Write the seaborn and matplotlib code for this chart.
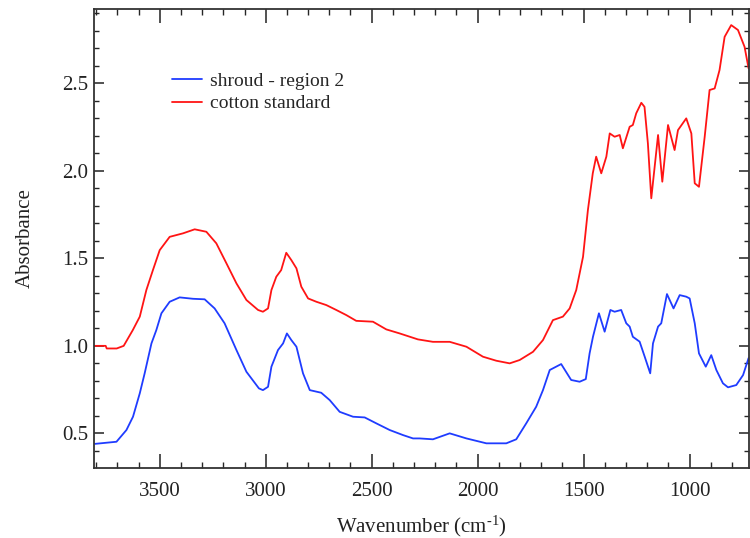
import numpy as np
import pandas as pd
import matplotlib
matplotlib.use("Agg")
import matplotlib.pyplot as plt
from matplotlib.ticker import MultipleLocator
import seaborn as sns

# FTIR absorbance spectra (wavenumber in cm^-1)
cotton_wn = [3805, 3755, 3750, 3703, 3670, 3627, 3594, 3563, 3532, 3500, 3453, 3390,
             3335, 3280, 3233, 3185, 3138, 3091, 3036, 3013, 2989, 2973, 2950, 2927,
             2903, 2879, 2855, 2832, 2800, 2761, 2714, 2667, 2620, 2573, 2494, 2431,
             2368, 2282, 2211, 2132, 2053, 1975, 1912, 1849, 1802, 1739, 1692, 1645,
             1598, 1566, 1535, 1503, 1480, 1457, 1441, 1417, 1393, 1377, 1354, 1330,
             1315, 1283, 1268, 1252, 1228, 1213, 1197, 1181, 1165, 1149, 1129, 1102,
             1071, 1055, 1016, 992, 976, 956, 929, 906, 882, 859, 835, 804, 772, 741, 722]
cotton_abs = [1.00, 1.00, 0.985, 0.985, 1.00, 1.09, 1.167, 1.319, 1.433, 1.547, 1.623, 1.643,
              1.666, 1.652, 1.586, 1.471, 1.357, 1.262, 1.205, 1.195, 1.214, 1.319, 1.395, 1.433,
              1.532, 1.49, 1.443, 1.338, 1.271, 1.252, 1.233, 1.205, 1.176, 1.143, 1.138, 1.094,
              1.071, 1.037, 1.023, 1.023, 0.995, 0.938, 0.915, 0.90, 0.919, 0.966, 1.033, 1.147,
              1.167, 1.214, 1.319, 1.509, 1.776, 1.986, 2.081, 1.986, 2.081, 2.214, 2.195, 2.205,
              2.129, 2.252, 2.262, 2.329, 2.389, 2.366, 2.157, 1.843, 2.024, 2.205, 1.938, 2.262,
              2.119, 2.233, 2.30, 2.214, 1.929, 1.909, 2.195, 2.462, 2.471, 2.576, 2.766, 2.833,
              2.805, 2.709, 2.586]

shroud_wn = [3805, 3704, 3657, 3626, 3594, 3571, 3539, 3516, 3492, 3453, 3406, 3343,
             3288, 3241, 3194, 3138, 3091, 3032, 3013, 2989, 2973, 2942, 2918, 2900,
             2879, 2855, 2824, 2792, 2738, 2698, 2651, 2588, 2533, 2478, 2415, 2352,
             2305, 2274, 2211, 2132, 2053, 1959, 1865, 1818, 1771, 1724, 1692, 1660,
             1606, 1559, 1519, 1490, 1472, 1456, 1428, 1401, 1374, 1354, 1323, 1299,
             1283, 1268, 1236, 1212, 1186, 1173, 1149, 1134, 1107, 1076, 1047, 1016,
             1000, 976, 956, 924, 898, 874, 843, 819, 780, 748, 722]
shroud_abs = [0.44, 0.452, 0.519, 0.595, 0.729, 0.843, 1.014, 1.09, 1.186, 1.252, 1.277, 1.269,
              1.266, 1.214, 1.129, 0.976, 0.852, 0.757, 0.747, 0.766, 0.881, 0.976, 1.014, 1.071,
              1.033, 0.995, 0.843, 0.747, 0.732, 0.690, 0.623, 0.595, 0.591, 0.557, 0.519, 0.490,
              0.471, 0.471, 0.466, 0.50, 0.471, 0.443, 0.443, 0.466, 0.557, 0.652, 0.747, 0.862,
              0.896, 0.805, 0.795, 0.81, 0.957, 1.052, 1.186, 1.081, 1.205, 1.195, 1.205, 1.129,
              1.110, 1.052, 1.024, 0.938, 0.843, 1.014, 1.11, 1.129, 1.296, 1.214, 1.290, 1.281,
              1.271, 1.129, 0.957, 0.881, 0.947, 0.862, 0.786, 0.763, 0.776, 0.833, 0.93]

series_names = ["shroud - region 2", "cotton standard"]
series_colors = ["#1f3cff", "#ff1414"]

df = pd.concat([
    pd.DataFrame({"wn": shroud_wn, "abs": shroud_abs, "sample": series_names[0]}),
    pd.DataFrame({"wn": cotton_wn, "abs": cotton_abs, "sample": series_names[1]}),
], ignore_index=True)

sns.set_theme(style="ticks")
plt.rcParams["font.family"] = ["Liberation Serif", "DejaVu Serif"]
plt.rcParams["mathtext.fontset"] = "custom"
plt.rcParams["mathtext.rm"] = "Liberation Serif"
plt.rcParams["mathtext.it"] = "Liberation Serif:italic"

fig = plt.figure(figsize=(7.5, 5.38), dpi=100)
ax = fig.add_axes([94 / 750, 1 - 468 / 538, 655 / 750, 459 / 538])

sns.lineplot(data=df, x="wn", y="abs", hue="sample", palette=series_colors,
             sort=False, estimator=None, linewidth=1.3, ax=ax, legend=False)

ax.set_xlim(3810, 720)
ax.set_ylim(0.302, 2.925)

ax.xaxis.set_major_locator(MultipleLocator(500))
ax.xaxis.set_minor_locator(MultipleLocator(100))
ax.yaxis.set_major_locator(MultipleLocator(0.5))
ax.yaxis.set_minor_locator(MultipleLocator(0.1))
ax.yaxis.set_major_formatter(matplotlib.ticker.FormatStrFormatter("%.1f"))

ax.tick_params(axis="x", which="major", direction="in", length=10, width=1.1,
               top=True, bottom=True, labelsize=15, pad=10, colors="#222222")
ax.tick_params(axis="x", which="minor", direction="in", length=4.5, width=1.0,
               top=True, bottom=True)
ax.tick_params(axis="y", which="major", direction="in", length=7, width=1.1,
               left=True, right=True, labelsize=15, pad=4, colors="#222222")
ax.tick_params(axis="y", which="minor", direction="in", length=3.5, width=1.0,
               left=True, right=True)
for sp in ax.spines.values():
    sp.set_linewidth(1.3)
    sp.set_color("#333333")

ax.set_xlabel("Wavenumber (cm$^{\u2010 1}$)", fontsize=15, color="#222222", labelpad=9)
ax.set_ylabel("Absorbance", fontsize=15, color="#222222", labelpad=20)

handles = [plt.Line2D([], [], color=c, linewidth=1.3) for c in series_colors]
ax.legend(handles, series_names, loc="upper left", bbox_to_anchor=(0.093, 0.90),
          frameon=False, fontsize=14, handlelength=1.5, handletextpad=0.45,
          labelspacing=0.25)

fig.savefig("out.png", dpi=100)
